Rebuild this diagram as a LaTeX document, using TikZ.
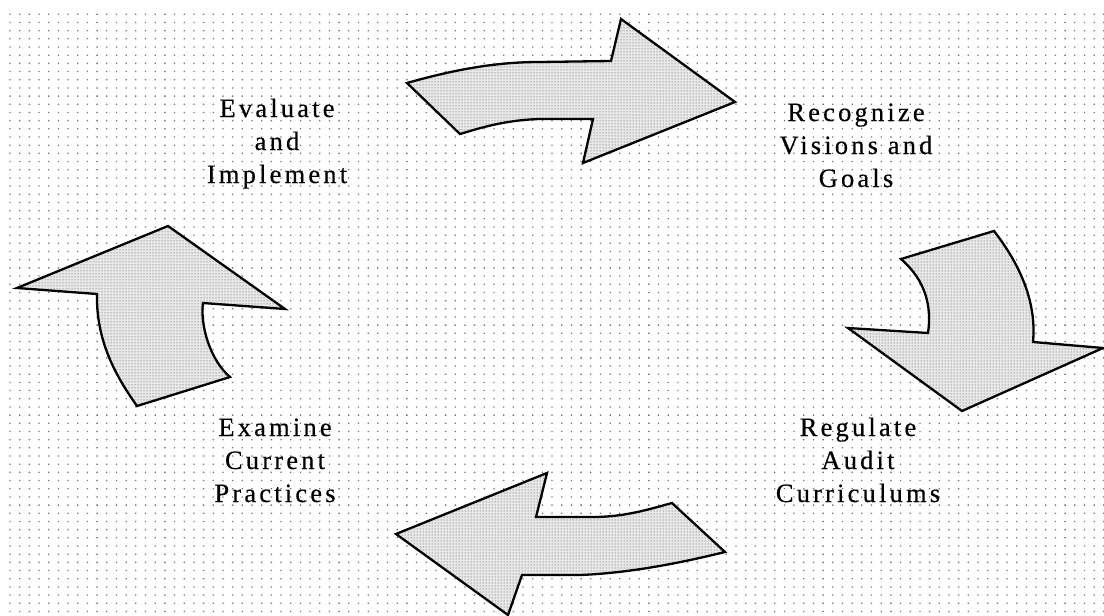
\documentclass[tikz,border=0pt]{standalone}
\usepackage{fontspec}
\setmainfont{Liberation Serif}[LetterSpace=12,FakeBold=0.4]
\usetikzlibrary{patterns}
\begin{document}
\begin{tikzpicture}[x=1pt,y=-1pt,
  arrowshape/.style={draw=black,line width=2.3pt,line join=miter,fill=black!9,
    postaction={pattern=dots,pattern color=black!75}},
  lbl/.style={align=center,inner sep=0pt,anchor=base,
    font=\fontsize{26.5}{33}\selectfont}]
\useasboundingbox (0,0) rectangle (1104,616);
\fill[white] (0,0) rectangle (1104,616);
% background dot grid
\foreach \i in {0,...,113}{
  \fill[black!55] \foreach \j in {0,...,73}{
    ({10+9.68*\i-0.65},{14.3+8.18*\j-0.65}) rectangle ++(1.3,1.3)};}
% top arrow (to the right)
\draw[arrowshape] (407,83) .. controls (460,68) and (500,62) .. (540,62)
  -- (611,61) -- (621,19) -- (735,102) -- (583,163) -- (593,119) -- (540,119)
  .. controls (505,120) and (480,128) .. (460,134) -- cycle;
% right arrow (downwards)
\draw[arrowshape] (901,259) -- (994,231) .. controls (1018,262) and (1037,300) .. (1033,342)
  -- (1103,348) -- (962,411) -- (848,328) -- (928,333)
  .. controls (932,305) and (925,280) .. (901,259) -- cycle;
% bottom arrow (to the left)
\draw[arrowshape] (547,473) -- (536,517) -- (593,517) .. controls (625,517) and (650,509) .. (672,503)
  -- (725,552) .. controls (680,563) and (630,573) .. (580,575) -- (522,575)
  -- (508,615) -- (396,534) -- cycle;
% left arrow (upwards)
\draw[arrowshape] (168,226) -- (285,309) -- (203,303) .. controls (200,325) and (210,360) .. (230,377)
  -- (137,406) .. controls (115,375) and (96,340) .. (97,294) -- (17,288) -- cycle;
% labels (anchor = baseline of last line)
\node[lbl] (eval) at (277,183) {Evaluate\\and\\Implement};
\node[lbl] (recog) at (856,187) {Recognize\\Visions and\\Goals};
\node[lbl] (regul) at (858,502) {Regulate\\Audit\\Curriculums};
\node[lbl] (exam) at (275,502) {Examine\\Current\\Practices};
\end{tikzpicture}
\end{document}
